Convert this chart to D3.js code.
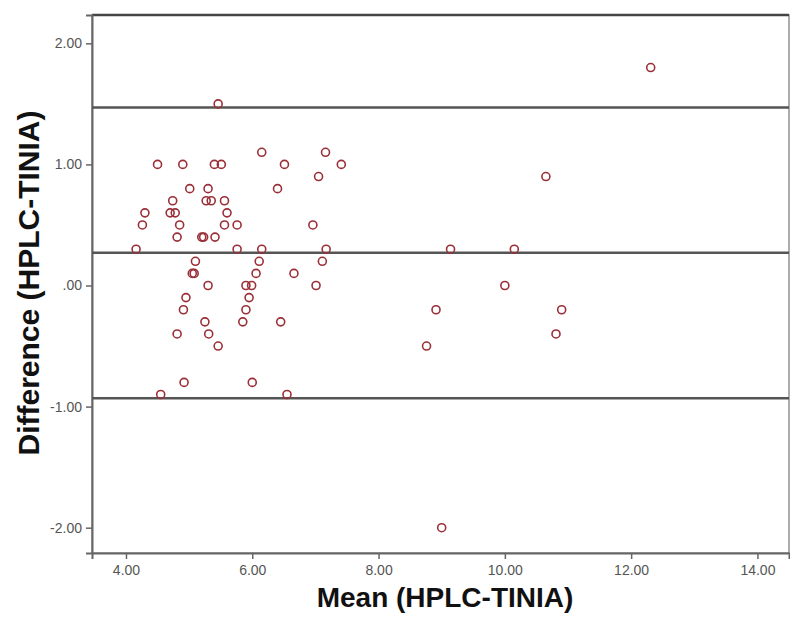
<!DOCTYPE html>
<html>
<head>
<meta charset="utf-8">
<script src="https://cdn.jsdelivr.net/npm/d3@7"></script>
<style>
  body { margin: 0; background: #fff; }
  .axis text { font-family: "Liberation Sans", Arial, sans-serif; font-size: 14px; fill: #555; }
  .axis path, .axis line { stroke: #666; }
  .title { font-family: "Liberation Sans", Arial, sans-serif; font-weight: bold; fill: #111; }
</style>
</head>
<body>
<div class="chart"></div>
<script>
// Data.
const meanX = [
  5.46, 12.31, 6.15, 7.16, 4.50, 4.90, 5.40, 5.51, 6.51, 7.41,
  7.05, 10.65, 5.01, 5.30, 6.40, 4.74, 5.27, 5.35, 5.56, 4.30,
  4.70, 4.78, 5.60, 4.26, 4.85, 5.56, 5.76, 6.96, 4.81, 5.20,
  5.23, 5.41, 4.16, 5.76, 6.15, 7.17, 9.14, 10.15, 5.10, 6.11,
  7.11, 5.05, 5.08, 6.06, 6.66, 5.30, 5.90, 5.99, 7.01, 10.00,
  4.95, 5.95, 4.91, 5.90, 8.91, 10.90, 5.25, 5.85, 6.45, 4.81,
  5.31, 10.81, 5.46, 8.76, 4.92, 6.00, 4.55, 6.55, 9.00
];
const diff = [
  1.5, 1.8, 1.1, 1.1, 1.0, 1.0, 1.0, 1.0, 1.0, 1.0,
  0.9, 0.9, 0.8, 0.8, 0.8, 0.7, 0.7, 0.7, 0.7, 0.6,
  0.6, 0.6, 0.6, 0.5, 0.5, 0.5, 0.5, 0.5, 0.4, 0.4,
  0.4, 0.4, 0.3, 0.3, 0.3, 0.3, 0.3, 0.3, 0.2, 0.2,
  0.2, 0.1, 0.1, 0.1, 0.1, 0.0, 0.0, 0.0, 0.0, 0.0,
  -0.1, -0.1, -0.2, -0.2, -0.2, -0.2, -0.3, -0.3, -0.3, -0.4,
  -0.4, -0.4, -0.5, -0.5, -0.8, -0.8, -0.9, -0.9, -2.0
];
// mean difference and limits of agreement
const refLines = [1.47, 0.27, -0.93];
const xTicks = [4, 6, 8, 10, 12, 14];
const yTicks = [2, 1, 0, -1, -2];

// Margin convention.
const margin = { top: 15, right: 1, bottom: 68, left: 92 };
const width = 790 - margin.left - margin.right;
const height = 621 - margin.top - margin.bottom;

const svg = d3
  .select(".chart")
  .append("svg")
  .attr("width", 790)
  .attr("height", 621)
  .append("g")
  .attr("transform", `translate(${margin.left}, ${margin.top})`);

// Scales.
const xScale = d3.scaleLinear().domain([3.462, 14.5]).range([0, width]);
const yScale = d3.scaleLinear().domain([-2.209, 2.234]).range([height, 0]);

// SPSS style labels: ".00", "-1.00" (plain hyphen)
const fmt = (d) => (d === 0 ? ".00" : d.toFixed(2));

// Frame.
svg
  .append("rect")
  .attr("width", width)
  .attr("height", height)
  .attr("fill", "none")
  .attr("stroke", "#777")
  .attr("stroke-width", 1.2);

svg
  .append("line")
  .attr("x1", 0)
  .attr("x2", width)
  .attr("y1", 0)
  .attr("y2", 0)
  .attr("stroke", "#444")
  .attr("stroke-width", 2.5);

// Axes.
const xAxis = d3
  .axisBottom(xScale)
  .tickValues(xTicks)
  .tickFormat(fmt)
  .tickSizeOuter(0)
  .tickSize(6)
  .tickPadding(6);

svg
  .append("g")
  .attr("class", "x axis")
  .attr("transform", `translate(0, ${height})`)
  .call(xAxis)
  .call((g) => g.select(".domain").attr("stroke", "#666").attr("stroke-width", 2));

const yAxis = d3
  .axisLeft(yScale)
  .tickValues(yTicks)
  .tickFormat(fmt)
  .tickSizeOuter(0)
  .tickSize(6)
  .tickPadding(4);

svg
  .append("g")
  .attr("class", "y axis")
  .call(yAxis)
  .call((g) => g.select(".domain").attr("stroke", "#666").attr("stroke-width", 2));

svg.selectAll(".axis .tick line").attr("stroke", "#555").attr("stroke-width", 1.5);

// Reference lines.
svg
  .append("g")
  .attr("class", "ref-lines")
  .selectAll("line")
  .data(refLines)
  .enter()
  .append("line")
  .attr("x1", 0)
  .attr("x2", width)
  .attr("y1", (d) => yScale(d))
  .attr("y2", (d) => yScale(d))
  .attr("stroke", "#555")
  .attr("stroke-width", 2.5);

// Points.
const points = meanX.map((x, i) => ({ x: x, y: diff[i] }));

svg
  .append("g")
  .attr("class", "points")
  .selectAll("circle")
  .data(points)
  .enter()
  .append("circle")
  .attr("cx", (d) => xScale(d.x))
  .attr("cy", (d) => yScale(d.y))
  .attr("r", 4)
  .attr("fill", "none")
  .attr("stroke", "#9a2f37")
  .attr("stroke-width", 1.6);

// Axis titles.
svg
  .append("text")
  .attr("class", "title")
  .attr("x", 353)
  .attr("y", height + 54)
  .attr("text-anchor", "middle")
  .style("font-size", "28px")
  .text("Mean (HPLC-TINIA)");

svg
  .append("text")
  .attr("class", "title")
  .attr("transform", `translate(${39 - margin.left}, ${283 - margin.top}) rotate(-90)`)
  .attr("text-anchor", "middle")
  .style("font-size", "30px")
  .text("Difference (HPLC-TINIA)");
</script>
</body>
</html>
